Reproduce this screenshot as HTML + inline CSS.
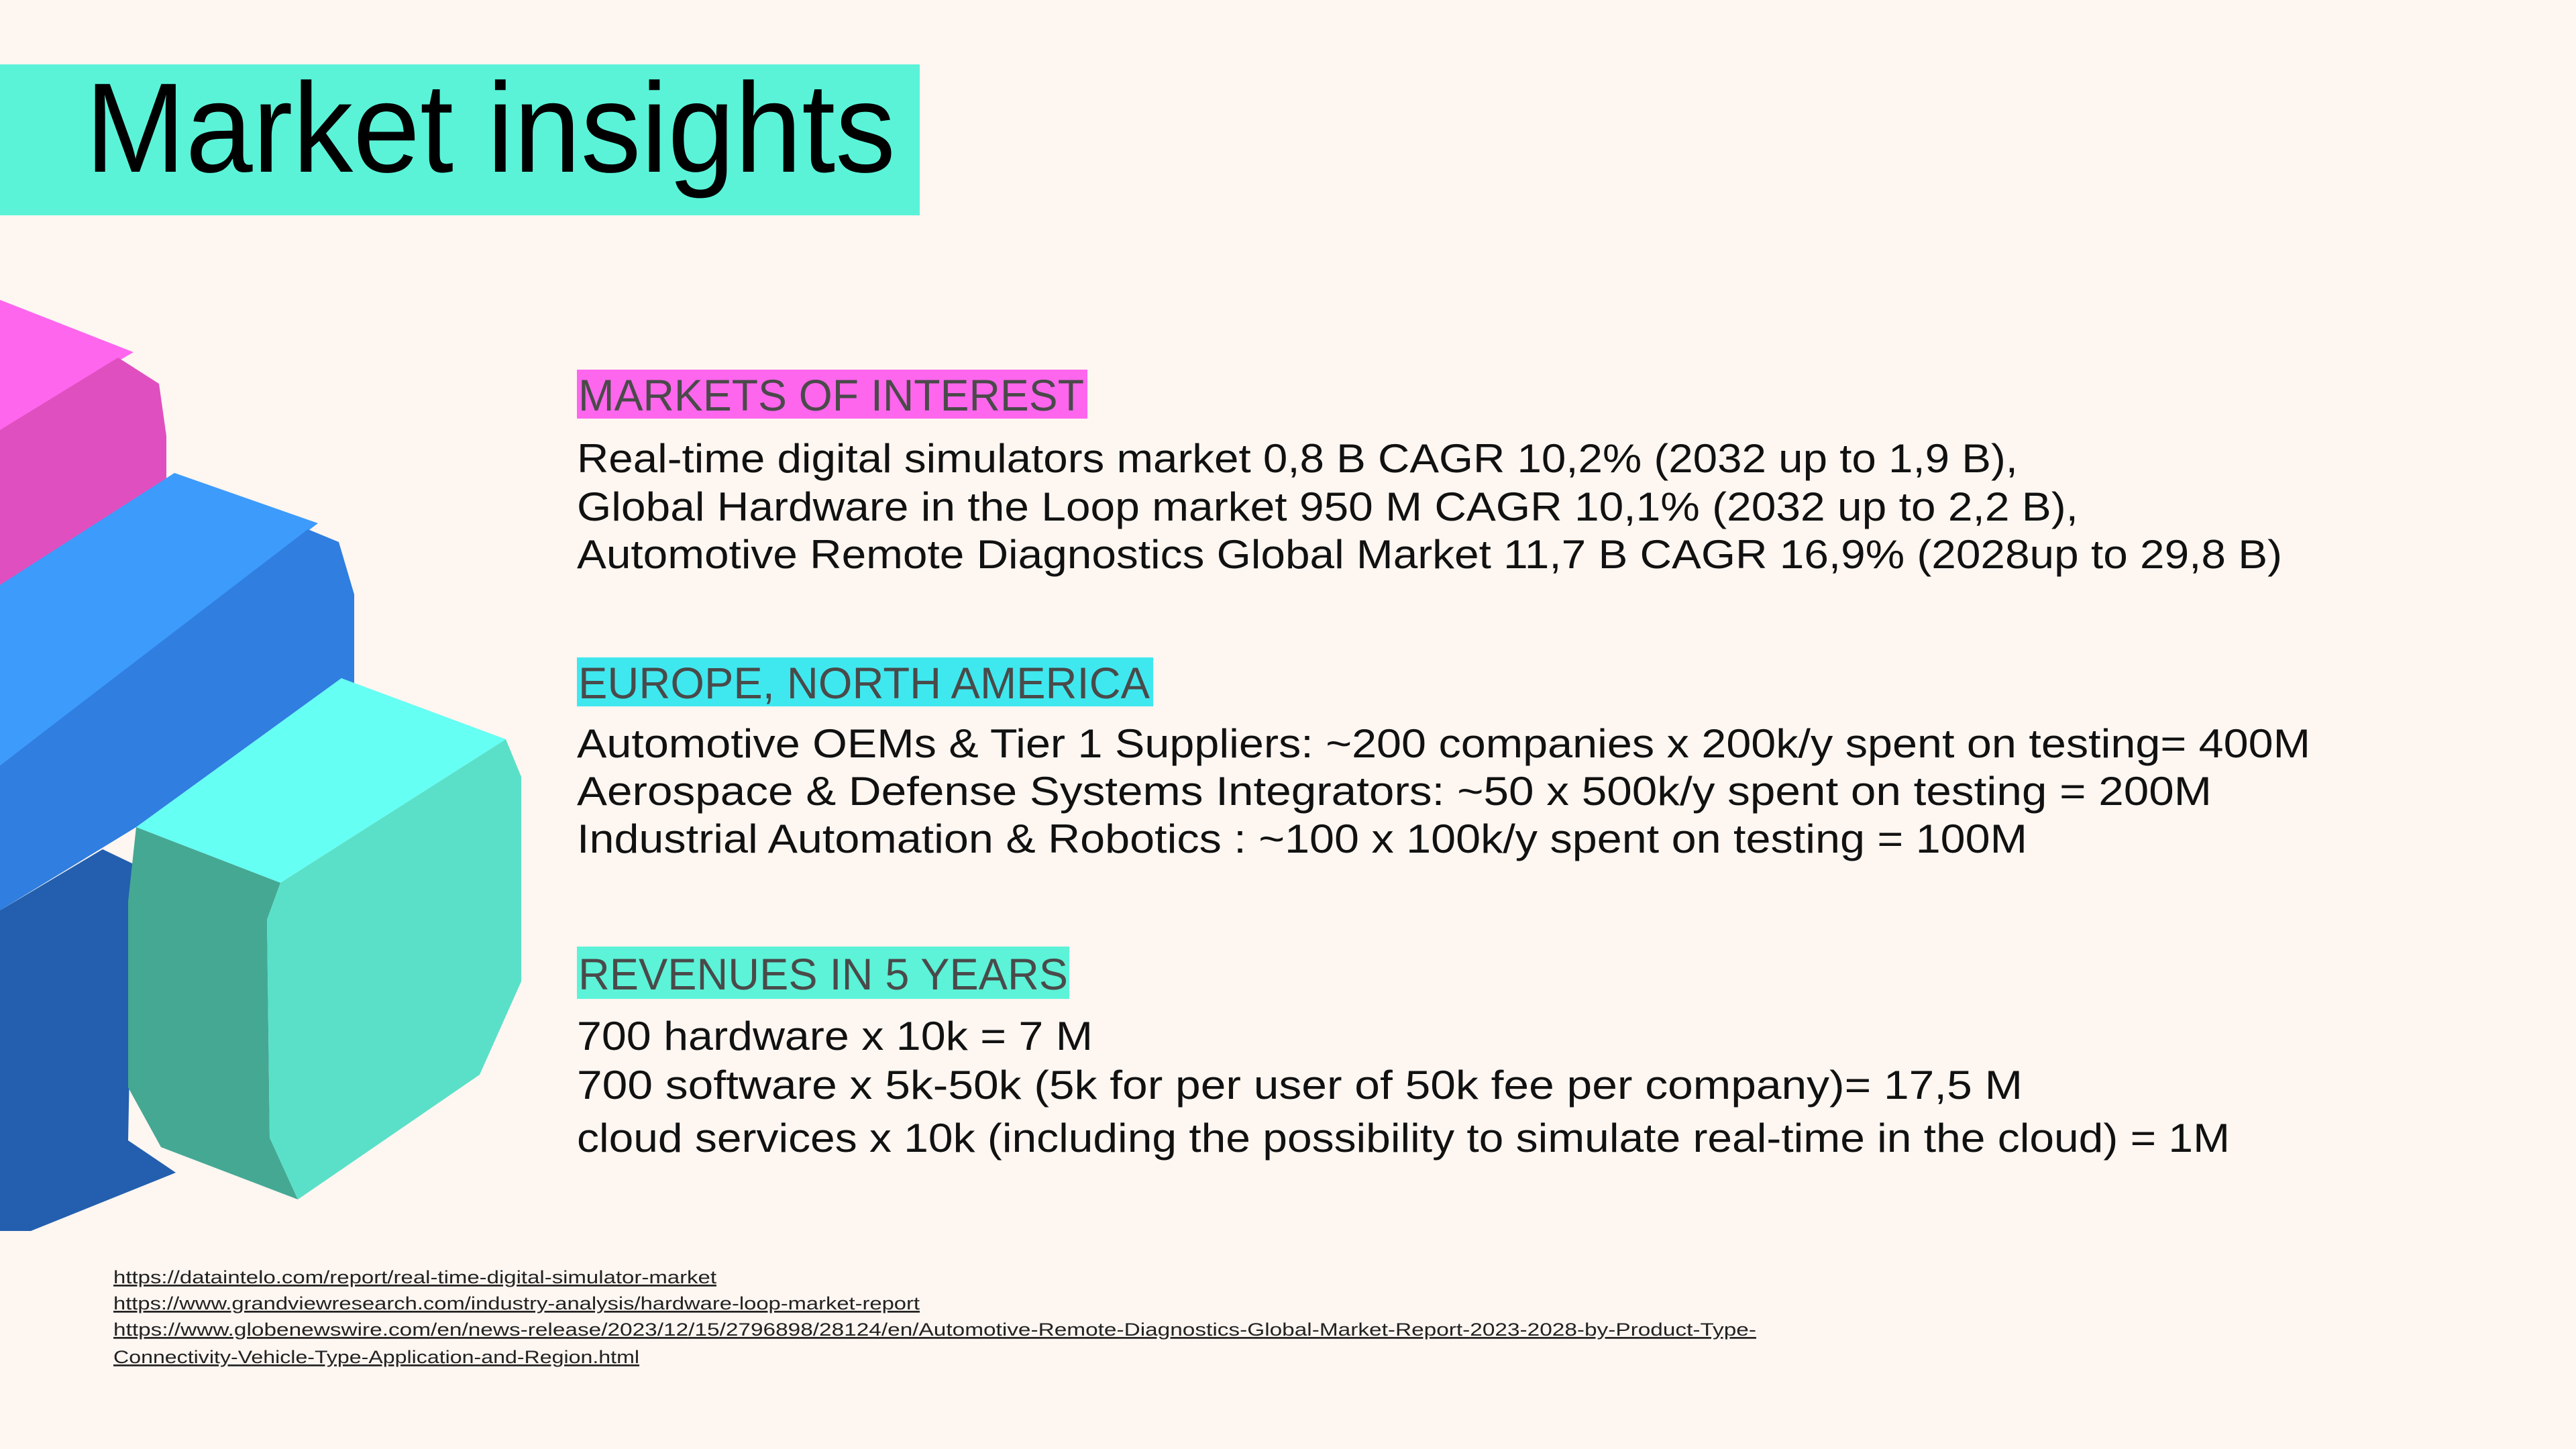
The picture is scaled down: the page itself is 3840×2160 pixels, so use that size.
<!DOCTYPE html>
<html><head><meta charset="utf-8"><style>
html,body{margin:0;padding:0;background:#fdf6f1;}
svg{display:block}
text{font-family:"Liberation Sans",sans-serif;}
.b{font-size:60px;fill:#111;}
.h{font-size:66px;fill:#4a4a4a;}
.l{font-size:27px;fill:#222;text-decoration:underline;}
</style></head><body>
<svg width="3840" height="2160" viewBox="0 0 3840 2160">
<rect width="3840" height="2160" fill="#fdf6f1"/>
<g>
<rect x="0" y="96" width="1371" height="225" fill="#5af3d8"/>
<text x="127" y="256" font-size="190" fill="#000" textLength="1208" lengthAdjust="spacingAndGlyphs">Market insights</text>
</g>
<g stroke-linejoin="round">
<polygon points="0,447 199,525 0,641" fill="#ff66ee"/>
<polygon points="0,641 176,533 237,572 248,650 248,719 0,877" fill="#e04fbf"/>
<polygon points="0,872 260,705 474,780 0,1141" fill="#3d9bfb"/>
<polygon points="0,1141 459,789 505,808 528,886 528,1066 509,1011 203,1233 0,1357" fill="#2f7ee0"/>
<polygon points="0,1357 153,1266 199,1288 191,1700 262,1748 46,1835 0,1835" fill="#235fae"/>
<polygon points="509,1011 754,1102 418,1316 203,1233" fill="#66fff4"/>
<polygon points="203,1233 418,1316 398,1371 402,1696 444,1788 240,1710 191,1621 191,1344" fill="#45a893"/>
<polygon points="418,1316 754,1102 777,1158 777,1463 715,1602 444,1788 402,1696 398,1371" fill="#5ae0c8"/>
</g>
<g>
<rect x="860" y="551" width="761" height="73" fill="#ff66ee"/>
<text class="h" x="862" y="612" textLength="754" lengthAdjust="spacingAndGlyphs">MARKETS OF INTEREST</text>
<text class="b" x="860" y="704" textLength="2148" lengthAdjust="spacingAndGlyphs">Real-time digital simulators market 0,8 B CAGR 10,2% (2032 up to 1,9 B),</text>
<text class="b" x="860" y="776" textLength="2238" lengthAdjust="spacingAndGlyphs">Global Hardware in the Loop market 950 M CAGR 10,1% (2032 up to 2,2 B),</text>
<text class="b" x="860" y="847" textLength="2542" lengthAdjust="spacingAndGlyphs">Automotive Remote Diagnostics Global Market 11,7 B CAGR 16,9% (2028up to 29,8 B)</text>
</g>
<g>
<rect x="860" y="980" width="859" height="73" fill="#3fe8ef"/>
<text class="h" x="862" y="1041" textLength="852" lengthAdjust="spacingAndGlyphs">EUROPE, NORTH AMERICA</text>
<text class="b" x="860" y="1129" textLength="2584" lengthAdjust="spacingAndGlyphs">Automotive OEMs &amp; Tier 1 Suppliers: ~200 companies x 200k/y spent on testing= 400M</text>
<text class="b" x="860" y="1200" textLength="2437" lengthAdjust="spacingAndGlyphs">Aerospace &amp; Defense Systems Integrators: ~50 x 500k/y spent on testing = 200M</text>
<text class="b" x="860" y="1271" textLength="2162" lengthAdjust="spacingAndGlyphs">Industrial Automation &amp; Robotics : ~100 x 100k/y spent on testing = 100M</text>
</g>
<g>
<rect x="860" y="1411" width="734" height="78" fill="#5cf3d8"/>
<text class="h" x="862" y="1475" textLength="730" lengthAdjust="spacingAndGlyphs">REVENUES IN 5 YEARS</text>
<text class="b" x="860" y="1565" textLength="769" lengthAdjust="spacingAndGlyphs">700 hardware x 10k = 7 M</text>
<text class="b" x="860" y="1638" textLength="2155" lengthAdjust="spacingAndGlyphs">700 software x 5k-50k (5k for per user of 50k fee per company)= 17,5 M</text>
<text class="b" x="860" y="1717" textLength="2464" lengthAdjust="spacingAndGlyphs">cloud services x 10k (including the possibility to simulate real-time in the cloud) = 1M</text>
</g>
<g>
<text class="l" x="169" y="1913" textLength="899" lengthAdjust="spacingAndGlyphs">https://dataintelo.com/report/real-time-digital-simulator-market</text>
<text class="l" x="169" y="1952" textLength="1202" lengthAdjust="spacingAndGlyphs">https://www.grandviewresearch.com/industry-analysis/hardware-loop-market-report</text>
<text class="l" x="169" y="1991" textLength="2449" lengthAdjust="spacingAndGlyphs">https://www.globenewswire.com/en/news-release/2023/12/15/2796898/28124/en/Automotive-Remote-Diagnostics-Global-Market-Report-2023-2028-by-Product-Type-</text>
<text class="l" x="169" y="2032" textLength="784" lengthAdjust="spacingAndGlyphs">Connectivity-Vehicle-Type-Application-and-Region.html</text>
</g>
</svg>
</body></html>
